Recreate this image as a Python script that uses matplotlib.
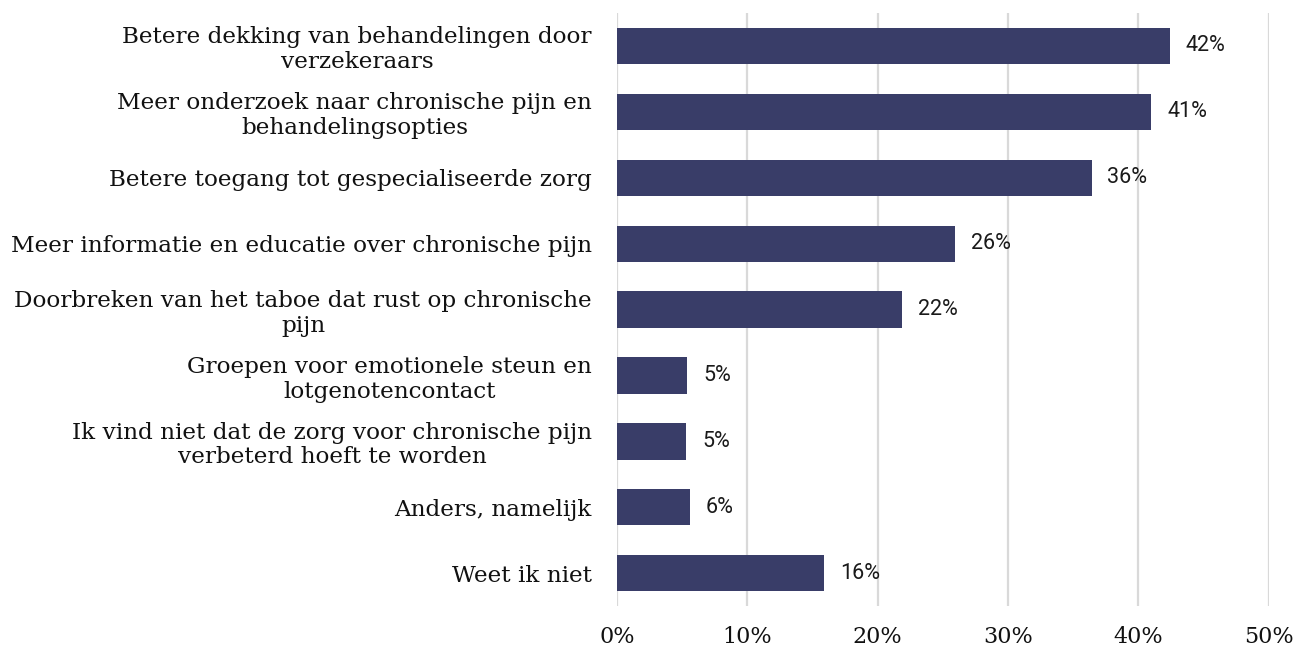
import matplotlib.pyplot as plt
from matplotlib.ticker import FuncFormatter

# antwoorden (van boven naar beneden)
categories = [
    'Betere dekking van behandelingen door\nverzekeraars',
    'Meer onderzoek naar chronische pijn en\nbehandelingsopties',
    'Betere toegang tot gespecialiseerde zorg',
    'Meer informatie en educatie over chronische pijn',
    'Doorbreken van het taboe dat rust op chronische\npijn',
    'Groepen voor emotionele steun en\nlotgenotencontact',
    'Ik vind niet dat de zorg voor chronische pijn\nverbeterd hoeft te worden',
    'Anders, namelijk',
    'Weet ik niet',
]
values = [42.4, 41.0, 36.4, 25.9, 21.9, 5.4, 5.3, 5.6, 15.9]
xticks = [0, 10, 20, 30, 40, 50]

bar_color = '#393d68'
grid_color = '#d9d9d9'

fig = plt.figure(figsize=(13, 6.49), dpi=100)
ax = fig.add_axes([0.4746, 0.066, 0.5014, 0.914])

y = list(range(len(categories)))
ax.barh(y, values, height=0.55, color=bar_color, zorder=3)

# percentage labels next to the bars
for yi, v in zip(y, values):
    ax.annotate('%d%%' % round(v), xy=(v, yi), xytext=(11.5, 0),
                textcoords='offset points', va='center', ha='left',
                fontsize=15.5, family='Roboto', fontweight='normal',
                color='#1a1a1a')

ax.set_ylim(len(categories) - 0.5, -0.5)
ax.set_xlim(0, 50)
ax.set_xticks(xticks)
ax.xaxis.set_major_formatter(FuncFormatter(lambda x, p: '%d%%' % x))
ax.set_yticks(y)
ax.set_yticklabels(categories, fontsize=16.7, family='DejaVu Serif',
                   color='#111111', multialignment='center', linespacing=1.15)
ax.tick_params(axis='y', length=0, pad=18)
ax.tick_params(axis='x', length=0, pad=14, labelsize=16, labelcolor='#111111')
for lab in ax.get_xticklabels():
    lab.set_family('DejaVu Serif')

ax.grid(axis='x', color=grid_color, linewidth=1.6, zorder=0)
for s in ax.spines.values():
    s.set_visible(False)

fig.savefig('out.png', dpi=100)
